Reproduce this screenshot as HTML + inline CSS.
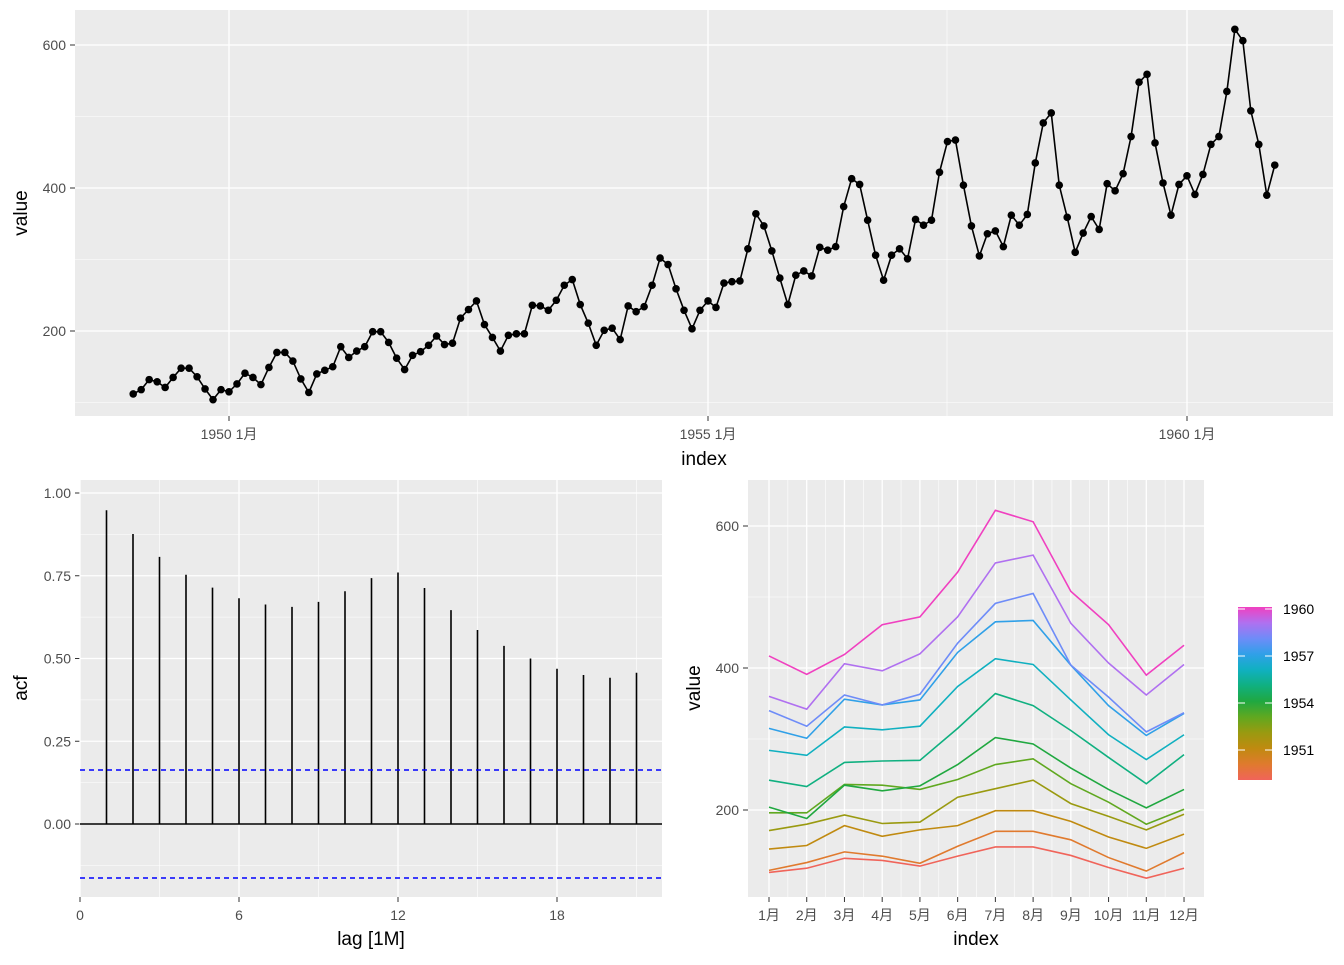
<!DOCTYPE html>
<html><head><meta charset="utf-8">
<style>
html,body{margin:0;padding:0;background:#fff;}
svg text{font-family:"Liberation Sans","Noto Sans CJK JP",sans-serif;}
</style></head><body>
<svg id="s" width="1344" height="960" xmlns="http://www.w3.org/2000/svg"></svg>
<script>
const D=[112,118,132,129,121,135,148,148,136,119,104,118,
115,126,141,135,125,149,170,170,158,133,114,140,
145,150,178,163,172,178,199,199,184,162,146,166,
171,180,193,181,183,218,230,242,209,191,172,194,
196,196,236,235,229,243,264,272,237,211,180,201,
204,188,235,227,234,264,302,293,259,229,203,229,
242,233,267,269,270,315,364,347,312,274,237,278,
284,277,317,313,318,374,413,405,355,306,271,306,
315,301,356,348,355,422,465,467,404,347,305,336,
340,318,362,348,363,435,491,505,404,359,310,337,
360,342,406,396,420,472,548,559,463,407,362,405,
417,391,419,461,472,535,622,606,508,461,390,432];
let h='';
const R=(x,y,w,hh,f)=>h+=`<rect x="${x}" y="${y}" width="${w}" height="${hh}" fill="${f}"/>`;
const L=(x1,y1,x2,y2,c,w,extra='')=>h+=`<line x1="${x1}" y1="${y1}" x2="${x2}" y2="${y2}" stroke="${c}" stroke-width="${w}" ${extra}/>`;
const T=(x,y,t,s,a,c='#4d4d4d',extra='')=>h+=`<text x="${x}" y="${y}" font-size="${s}" text-anchor="${a}" fill="${c}" ${extra}>${t}</text>`;
// ---- top panel
let X0=75,X1=1333,Y0=10,Y1=416;
R(X0,Y0,X1-X0,Y1-Y0,'#ebebeb');
const tx=m=>229+(m-12)*7.983, ty=v=>331-(v-200)*0.715;
[100,300,500].forEach(v=>L(X0,ty(v),X1,ty(v),'#fff',0.6));
[468,947].forEach(x=>L(x,Y0,x,Y1,'#fff',0.6));
[200,400,600].forEach(v=>{L(X0,ty(v),X1,ty(v),'#fff',1.3);L(70,ty(v),75,ty(v),'#333',1);T(66,ty(v)+5,v,14,'end');});
[229,708,1187].forEach((x,i)=>{L(x,Y0,x,Y1,'#fff',1.3);L(x,416,x,421,'#333',1);T(x,439,(1950+5*i)+'  1月',14,'middle');});
h+=`<polyline fill="none" stroke="#000" stroke-width="1.6" points="${D.map((v,i)=>tx(i)+','+ty(v)).join(' ')}"/>`;
D.forEach((v,i)=>h+=`<circle cx="${tx(i)}" cy="${ty(v)}" r="3.8" fill="#000"/>`);
T(704,465,'index',19,'middle','#000');
T(27,213,'value',19,'middle','#000','transform="rotate(-90 27 213)"');
// ---- ACF
X0=80;X1=662;Y0=480;Y1=897;
R(X0,Y0,X1-X0,Y1-Y0,'#ebebeb');
const ax=l=>80+l*26.5, ay=v=>824-v*331;
[-0.125,0.125,0.375,0.625,0.875].forEach(v=>L(X0,ay(v),X1,ay(v),'#fff',0.6));
[3,9,15,21].forEach(l=>L(ax(l),Y0,ax(l),Y1,'#fff',0.6));
[0,0.25,0.5,0.75,1].forEach(v=>{L(X0,ay(v),X1,ay(v),'#fff',1.3);L(75,ay(v),80,ay(v),'#333',1);T(71,ay(v)+5,v.toFixed(2),14,'end');});
[0,6,12,18].forEach(l=>{L(ax(l),Y0,ax(l),Y1,'#fff',1.3);L(ax(l),897,ax(l),902,'#333',1);T(ax(l),920,l,14,'middle');});
const A=[0.948,0.876,0.807,0.753,0.714,0.682,0.663,0.656,0.671,0.703,0.743,0.760,0.713,0.646,0.586,0.538,0.500,0.469,0.450,0.442,0.457];
A.forEach((v,i)=>L(ax(i+1),ay(0),ax(i+1),ay(v),'#000',1.6));
L(X0,ay(0),X1,ay(0),'#000',1.6);
L(X0,770,X1,770,'#0000ff',1.5,'stroke-dasharray="5,4"');
L(X0,878,X1,878,'#0000ff',1.5,'stroke-dasharray="5,4"');
T(371,945,'lag [1M]',19,'middle','#000');
T(27,688,'acf',19,'middle','#000','transform="rotate(-90 27 688)"');
// ---- season plot
X0=748;X1=1204;Y0=480;Y1=897;
R(X0,Y0,X1-X0,Y1-Y0,'#ebebeb');
const sx=m=>769+(m-1)*37.73, sy=v=>810-(v-200)*0.71;
[300,500].forEach(v=>L(X0,sy(v),X1,sy(v),'#fff',0.6));
for(let m=1;m<12;m++)L(sx(m+0.5),Y0,sx(m+0.5),Y1,'#fff',0.6);
[200,400,600].forEach(v=>{L(X0,sy(v),X1,sy(v),'#fff',1.3);L(743,sy(v),748,sy(v),'#333',1);T(739,sy(v)+5,v,14,'end');});
for(let m=1;m<=12;m++){L(sx(m),Y0,sx(m),Y1,'#fff',1.3);L(sx(m),897,sx(m),902,'#333',1);T(sx(m),920,m+'月',14,'middle');}
const C=['#F0645A','#E07A2E','#C08A10','#9A9A10','#60A820','#20A840','#10B080','#10B0C0','#30A0E8','#6E8CF8','#B070F0','#F040C0'];
for(let y=0;y<12;y++){h+=`<polyline fill="none" stroke="${C[y]}" stroke-width="1.6" points="${D.slice(y*12,y*12+12).map((v,i)=>sx(i+1)+','+sy(v)).join(' ')}"/>`;}
T(976,945,'index',19,'middle','#000');
T(700,688,'value',19,'middle','#000','transform="rotate(-90 700 688)"');
// legend
h+=`<defs><linearGradient id="g" x1="0" y1="1" x2="0" y2="0">${C.map((c,i)=>`<stop offset="${i/11}" stop-color="${c}"/>`).join('')}</linearGradient></defs>`;
h+=`<rect x="1238" y="607" width="34" height="173" fill="url(#g)"/>`;
[[1960,609],[1957,656],[1954,703],[1951,750]].forEach(([t,y])=>{L(1238,y,1245,y,'#fff',1);L(1265,y,1272,y,'#fff',1);T(1283,y+5,t,14,'start','#000');});
document.getElementById('s').innerHTML=h;
</script>
</body></html>
